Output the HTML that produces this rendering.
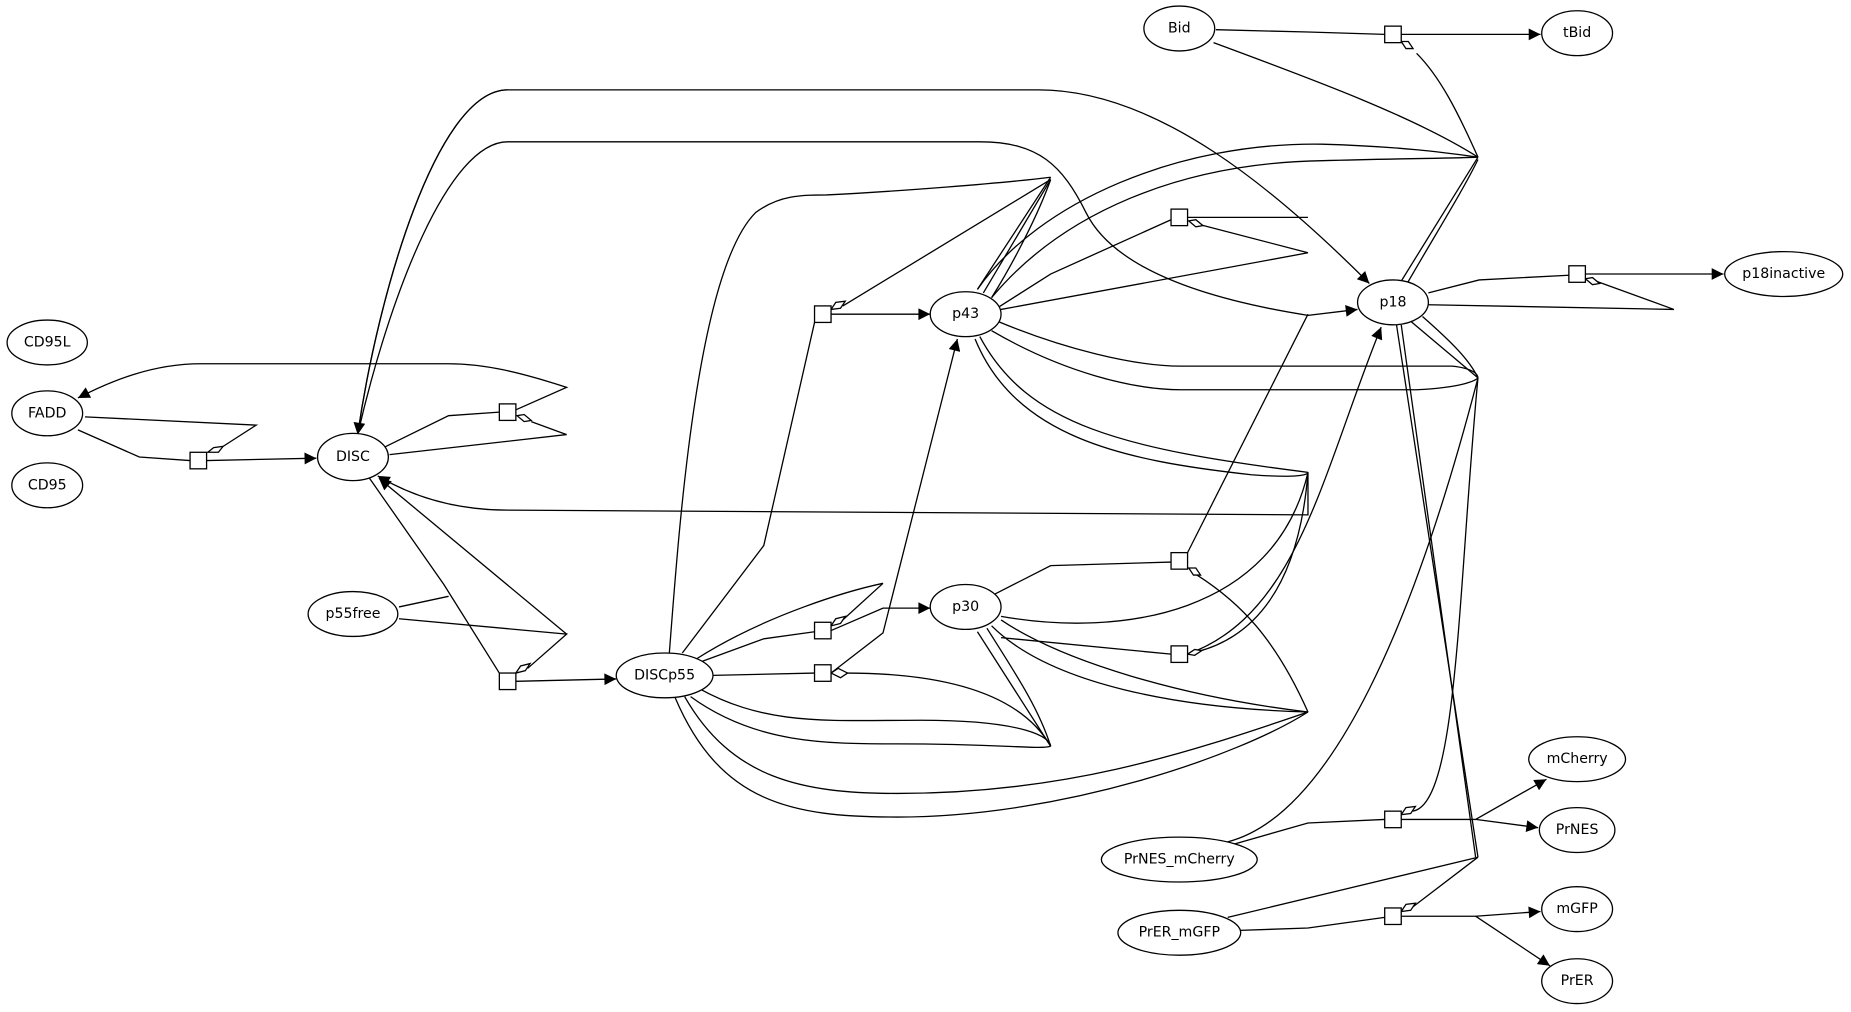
<!DOCTYPE html>
<html><head><meta charset="utf-8"><style>
html,body{margin:0;padding:0;background:#fff;}
svg{display:block}
text{font-family:"DejaVu Sans","Liberation Sans",sans-serif;font-size:12px;text-anchor:middle;dominant-baseline:central;fill:#000}
.e{fill:#fff;stroke:#000;stroke-width:1.1}
.l{fill:none;stroke:#000;stroke-width:1.1}
.s{fill:#fff;stroke:#000;stroke-width:1.1}
</style></head><body>
<svg width="1851" height="1012" viewBox="0 0 1568 857" xmlns="http://www.w3.org/2000/svg">
<defs>
<marker id="a" viewBox="0 0 10 10" refX="10" refY="5" markerWidth="14" markerHeight="10" markerUnits="userSpaceOnUse" orient="auto"><path d="M0,0L10,5L0,10z" fill="#000"/></marker>
</defs>
<g class="l">
<path d="M66,364 L118,387 L161,390"/>
<path d="M175,390 L268,388" marker-end="url(#a)"/>
<path d="M72,353 L217,360 L189,378"/>
<path d="M325,379 L380,352 L423,349"/>
<path d="M437,347 L480,328 C440,315 410,308 380,308 L170,308 C130,308 95,322 66,337" marker-end="url(#a)"/>
<path d="M330,385 L480,368 L450,357"/>
<path d="M313,405 L376,495 L423,570"/>
<path d="M338,514 L380,505"/>
<path d="M437,577 L522,575" marker-end="url(#a)"/>
<path d="M338,524 L480,537 L447,566"/>
<path d="M480,537 L321,405" marker-end="url(#a)"/>
<path d="M578,553 L647,462 L690,273"/>
<path d="M704,266 L788,266" marker-end="url(#a)"/>
<path d="M890,152 L714,259"/>
<path d="M567,553 C575,450 590,230 640,180 C660,165 680,165 700,165 C760,162 850,155 890,150"/>
<path d="M828,245 L890,150"/><path d="M833,248 L890,152"/><path d="M840,252 C860,220 880,180 890,152"/>
<path d="M303,368 C320,250 370,76 430,76 L880,76 C980,76 1080,160 1160,240" marker-end="url(#a)"/>
<path d="M430,76 C370,76 320,250 303,368" marker-end="url(#a)"/>
<path d="M1108,267 C1000,250 940,220 920,180 C900,140 880,120 830,120 L430,120 C380,120 330,250 303,368"/>
<path d="M1108,267 L1150,262" marker-end="url(#a)"/>
<path d="M1030,25 L1108,27 L1173,29"/>
<path d="M1187,29 L1305,29" marker-end="url(#a)"/>
<path d="M1028,36 C1120,70 1200,100 1252,133"/>
<path d="M1252,133 C1235,95 1220,65 1200,45"/>
<path d="M828,245 C880,170 1000,120 1120,122 C1190,124 1230,130 1252,133"/>
<path d="M840,252 C900,180 1000,138 1120,136 C1190,134 1230,134 1252,133"/>
<path d="M1187,238 L1252,133"/><path d="M1192,240 C1215,200 1240,160 1252,135"/>
<path d="M846,260 L890,232 L992,186"/>
<path d="M1006,184 L1108,184"/>
<path d="M848,262 L1108,214 L1016,190"/>
<path d="M1210,248 L1253,237 L1329,233"/>
<path d="M1343,232 L1460,232" marker-end="url(#a)"/>
<path d="M1210,258 L1418,262 L1352,238"/>
<path d="M845,272 C900,295 960,310 1000,310 L1230,310 C1250,312 1252,318 1252,320"/>
<path d="M840,280 C900,315 960,330 1000,330 L1200,330 C1240,328 1250,322 1252,320"/>
<path d="M1195,272 L1252,320"/><path d="M1205,268 C1230,290 1245,305 1252,320"/>
<path d="M1252,320 C1200,520 1130,690 1040,713"/>
<path d="M1252,320 C1235,500 1235,680 1197,687"/>
<path d="M830,285 C870,360 950,380 1108,400"/>
<path d="M826,287 C860,370 950,390 1060,402 C1100,405 1108,402 1108,400"/>
<path d="M1108,400 L1108,436 L430,432 C380,432 345,418 320,403" marker-end="url(#a)"/>
<path d="M1108,400 C1100,500 1060,540 1014,552"/>
<path d="M848,522 C950,540 1080,520 1108,400"/>
<path d="M843,503 L890,479 L992,476"/>
<path d="M1006,468 L1108,266"/>
<path d="M1108,603 C1080,540 1050,510 1014,487"/>
<path d="M848,540 L992,554"/>
<path d="M1006,554 C1100,520 1120,400 1170,277" marker-end="url(#a)"/>
<path d="M595,560 L647,541 L690,535"/>
<path d="M704,534 L748,515 L788,515" marker-end="url(#a)"/>
<path d="M748,494 L714,525"/>
<path d="M590,558 C650,520 720,500 748,494"/>
<path d="M604,572 L690,570"/>
<path d="M704,570 L748,536 L811,287" marker-end="url(#a)"/>
<path d="M890,632 C860,580 780,570 716,570"/>
<path d="M828,535 L890,632"/><path d="M836,532 C860,570 880,600 890,632"/>
<path d="M592,583 C650,615 700,610 780,610 C870,610 890,625 890,632"/>
<path d="M585,590 C640,630 700,630 760,630 C850,630 880,635 890,632"/>
<path d="M848,525 C900,560 1000,590 1108,603"/>
<path d="M840,530 C890,580 1000,600 1108,603"/>
<path d="M580,590 C620,660 680,672 760,672 C900,672 1000,640 1108,603"/>
<path d="M572,591 C610,680 670,692 760,692 C900,692 1050,640 1108,603"/>
<path d="M1045,715 L1108,697 L1173,694"/>
<path d="M1187,694 L1250,694 L1310,660" marker-end="url(#a)"/>
<path d="M1250,694 L1303,701" marker-end="url(#a)"/>
<path d="M1050,788 L1108,786 L1173,777"/>
<path d="M1187,776 L1250,776 L1305,772" marker-end="url(#a)"/>
<path d="M1250,776 L1313,818" marker-end="url(#a)"/>
<path d="M1252,726 L1197,768"/>
<path d="M1040,777 L1252,726"/>
<path d="M1183,275 L1252,726"/><path d="M1187,275 L1250,726"/>
</g>
<g class="s">
<path d="M176,383 l5,-4 l8,-1 l-4,5 z"/>
<path d="M438,352 l6,-1 l6,5 l-6,1 z"/>
<path d="M437,570 l4,-6 l8,-2 l-4,6 z"/>
<path d="M704,262 l4,-6 l8,-1 l-4,6 z"/>
<path d="M1007,187 l6,-1 l6,5 l-6,1 z"/>
<path d="M1187,35 l6,0 l4,6 l-6,0 z"/>
<path d="M1343,236 l6,-1 l6,5 l-6,1 z"/>
<path d="M1007,481 l6,0 l4,6 l-6,0 z"/>
<path d="M1006,554 l6,-4 l6,1 l-6,4 z"/>
<path d="M704,530 l4,-6 l8,-2 l-4,6 z"/>
<path d="M704,570 l6,-4 l8,4 l-6,4 z"/>
<path d="M1187,690 l4,-6 l8,-1 l-4,6 z"/>
<path d="M1187,772 l4,-6 l8,-1 l-4,6 z"/>
</g>
<g class="s">
<rect x="423" y="342" width="14" height="14"/>
<rect x="161" y="383" width="14" height="14"/>
<rect x="423" y="570" width="14" height="14"/>
<rect x="690" y="259" width="14" height="14"/>
<rect x="690" y="527" width="14" height="14"/>
<rect x="690" y="563" width="14" height="14"/>
<rect x="992" y="177" width="14" height="14"/>
<rect x="992" y="468" width="14" height="14"/>
<rect x="992" y="547" width="14" height="14"/>
<rect x="1173" y="22" width="14" height="14"/>
<rect x="1329" y="225" width="14" height="14"/>
<rect x="1173" y="687" width="14" height="14"/>
<rect x="1173" y="769" width="14" height="14"/>
</g>
<g>
<ellipse class="e" cx="999" cy="24" rx="30" ry="19"/><text x="999" y="24">Bid</text>
<ellipse class="e" cx="1336" cy="28" rx="30" ry="19"/><text x="1336" y="28">tBid</text>
<ellipse class="e" cx="40" cy="290" rx="34" ry="19"/><text x="40" y="290">CD95L</text>
<ellipse class="e" cx="40" cy="350" rx="30" ry="19"/><text x="40" y="350">FADD</text>
<ellipse class="e" cx="40" cy="411" rx="30" ry="19"/><text x="40" y="411">CD95</text>
<ellipse class="e" cx="299" cy="387" rx="30" ry="20"/><text x="299" y="387">DISC</text>
<ellipse class="e" cx="299" cy="520" rx="38" ry="19"/><text x="299" y="520">p55free</text>
<ellipse class="e" cx="563" cy="572" rx="41" ry="19"/><text x="563" y="572">DISCp55</text>
<ellipse class="e" cx="818" cy="266" rx="30" ry="19"/><text x="818" y="266">p43</text>
<ellipse class="e" cx="818" cy="514" rx="30" ry="19"/><text x="818" y="514">p30</text>
<ellipse class="e" cx="1180" cy="256" rx="30" ry="19"/><text x="1180" y="256">p18</text>
<ellipse class="e" cx="1511" cy="232" rx="50" ry="19"/><text x="1511" y="232">p18inactive</text>
<ellipse class="e" cx="1336" cy="643" rx="41" ry="19"/><text x="1336" y="643">mCherry</text>
<ellipse class="e" cx="1336" cy="703" rx="32" ry="19"/><text x="1336" y="703">PrNES</text>
<ellipse class="e" cx="999" cy="728" rx="66" ry="19"/><text x="999" y="728">PrNES_mCherry</text>
<ellipse class="e" cx="999" cy="790" rx="52" ry="19"/><text x="999" y="790">PrER_mGFP</text>
<ellipse class="e" cx="1336" cy="770" rx="30" ry="19"/><text x="1336" y="770">mGFP</text>
<ellipse class="e" cx="1336" cy="831" rx="30" ry="19"/><text x="1336" y="831">PrER</text>
</g>
</svg>
</body></html>
